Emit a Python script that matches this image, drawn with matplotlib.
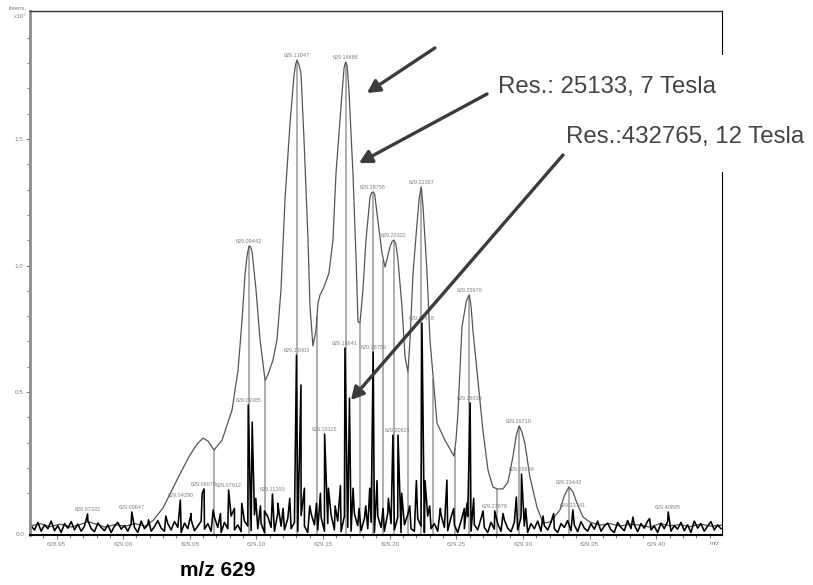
import numpy as np
import matplotlib
matplotlib.use('Agg')
import matplotlib.pyplot as plt
from matplotlib.patches import Rectangle

plt.rcParams['font.family'] = ['Liberation Sans', 'DejaVu Sans']

# 7 Tesla profile spectrum (m/z, intensity x10^7)
lowres_mz = [
    628.9301, 628.9376, 628.9451, 628.9526, 628.9601, 628.9676, 628.9736, 628.9796,
    628.9864, 628.9939, 629.0014, 629.0089, 629.0164, 629.0224, 629.0299, 629.0351,
    629.0426, 629.0501, 629.0554, 629.0599, 629.0637, 629.0682, 629.0742, 629.0817,
    629.0862, 629.0892, 629.0914, 629.0930, 629.0944, 629.0955, 629.0967, 629.0997,
    629.1027, 629.1065, 629.1087, 629.1124, 629.1154, 629.1184, 629.1214, 629.1252,
    629.1282, 629.1294, 629.1305, 629.1318, 629.1334, 629.1357, 629.1387, 629.1402,
    629.1424, 629.1447, 629.1462, 629.1477, 629.1507, 629.1544, 629.1574, 629.1597,
    629.1634, 629.1657, 629.1669, 629.1680, 629.1694, 629.1724, 629.1747, 629.1762,
    629.1777, 629.1799, 629.1822, 629.1852, 629.1865, 629.1876, 629.1888, 629.1904,
    629.1942, 629.1965, 629.2002, 629.2018, 629.2032, 629.2046, 629.2062, 629.2092,
    629.2115, 629.2137, 629.2152, 629.2175, 629.2205, 629.2222, 629.2237, 629.2250,
    629.2280, 629.2302, 629.2355, 629.2414, 629.2482, 629.2497, 629.2512, 629.2542,
    629.2575, 629.2597, 629.2610, 629.2624, 629.2662, 629.2699, 629.2737, 629.2774,
    629.2804, 629.2849, 629.2887, 629.2924, 629.2950, 629.2971, 629.2990, 629.3014,
    629.3052, 629.3105, 629.3150, 629.3202, 629.3277, 629.3310, 629.3344, 629.3375,
    629.3405, 629.3450, 629.3502, 629.3577, 629.3652, 629.3727, 629.3802, 629.3877,
    629.3952, 629.4027, 629.4102, 629.4177, 629.4252, 629.4327, 629.4410, 629.4493,
]
lowres_int = [
    -0.030, -0.020, -0.032, -0.022, -0.034, -0.024, -0.012, -0.022,
    -0.034, -0.024, -0.030, -0.020, -0.030, -0.008, 0.042, 0.097,
    0.176, 0.251, 0.294, 0.318, 0.306, 0.271, 0.310, 0.429,
    0.587, 0.785, 0.962, 1.040, 1.077, 1.075, 1.055, 0.903,
    0.706, 0.545, 0.570, 0.626, 0.706, 0.903, 1.259, 1.563,
    1.753, 1.795, 1.812, 1.795, 1.761, 1.496, 1.101, 0.836,
    0.682, 0.745, 0.852, 0.884, 0.915, 0.970, 1.101, 1.366,
    1.626, 1.780, 1.804, 1.790, 1.694, 1.366, 1.034, 0.777,
    0.775, 0.903, 1.101, 1.271, 1.288, 1.291, 1.280, 1.208,
    1.049, 0.994, 1.073, 1.095, 1.101, 1.085, 1.022, 0.836,
    0.638, 0.579, 0.706, 0.970, 1.168, 1.270, 1.310, 1.231,
    0.970, 0.706, 0.377, 0.310, 0.247, 0.310, 0.417, 0.757,
    0.860, 0.884, 0.840, 0.745, 0.547, 0.350, 0.192, 0.125,
    0.117, 0.117, 0.144, 0.243, 0.330, 0.366, 0.345, 0.298,
    0.164, 0.045, -0.018, -0.014, 0.034, 0.090, 0.125, 0.105,
    0.061, 0.006, -0.014, -0.026, -0.020, -0.030, -0.022, -0.026,
    -0.034, -0.020, -0.028, -0.024, -0.032, -0.022, -0.030, -0.026,
]
lowres_labels = [629.09442, 629.13047, 629.16688, 629.18756, 629.20322,
                 629.22367, 629.25970, 629.29710, 629.33442]
lowres_label_int = [1.077, 1.812, 1.804, 1.291, 1.101, 1.310, 0.884, 0.366, 0.125]

# peak-boundary markers of the 7 Tesla profile
marker_mz = [629.0682, 629.0944, 629.1065, 629.1305, 629.1454, 629.1669, 629.1777,
             629.1876, 629.1949, 629.2032, 629.2137, 629.2237, 629.2324, 629.2490,
             629.2597, 629.2804, 629.2971, 629.3344]
marker_top = [0.271, 1.077, 0.545, 1.812, 0.80, 1.804, 0.775,
              1.291, 1.02, 1.101, 0.579, 1.310, 0.55, 0.28,
              0.884, 0.117, 0.366, 0.125]

# 12 Tesla spectrum: noise floor on an even m/z grid ...
noise_start = 628.931
noise_step = 0.0025
noise_int = [
    -0.030, -0.045, -0.015, -0.050, -0.025, -0.040, -0.010, -0.048, -0.028, -0.055, -0.020, -0.038, -0.012,
    -0.045, -0.022, -0.050, -0.030, -0.008, -0.040, -0.052, -0.018, -0.035, -0.048, -0.025, -0.055, -0.030,
    -0.015, -0.042, -0.028, -0.050, -0.020, -0.035, -0.055, -0.010, -0.040, -0.025, -0.050, -0.032, -0.008,
    -0.038, -0.050, -0.020, -0.045, -0.012, -0.035, -0.055, -0.018, -0.040, -0.005, -0.048, -0.030, -0.010,
    -0.042, -0.020, -0.050, 0.005, -0.035, -0.055, -0.015, -0.040, 0.010, -0.045, -0.025, -0.052, -0.010,
    -0.030, -0.048, 0.015, -0.040, -0.020, -0.055, 0.008, -0.035, -0.050, 0.020, -0.030, -0.045, 0.000,
    -0.040, -0.015, -0.050, 0.012, -0.030, -0.055, 0.020, -0.025, -0.045, 0.005, -0.050, -0.020, 0.015,
    -0.045, -0.010, -0.052, 0.010, -0.035, -0.050, 0.018, -0.028, -0.048, 0.000, -0.040, -0.015, -0.055,
    0.010, -0.035, -0.050, 0.020, -0.020, -0.045, 0.005, -0.055, -0.025, 0.015, -0.040, -0.050, 0.000,
    -0.030, -0.055, 0.010, -0.040, -0.020, -0.050, 0.015, -0.035, -0.048, 0.005, -0.025, -0.055, -0.010,
    -0.040, 0.008, -0.050, -0.025, -0.045, 0.000, -0.035, -0.055, -0.015, -0.042, -0.020, -0.050, -0.005,
    -0.038, -0.052, -0.015, -0.045, 0.005, -0.030, -0.055, -0.020, -0.040, -0.010, -0.050, -0.028, -0.045,
    -0.015, -0.040, -0.055, -0.020, -0.035, -0.008, -0.048, -0.025, -0.052, -0.012, -0.038, -0.050, -0.020,
    -0.042, -0.010, -0.050, -0.030, -0.018, -0.045, -0.055, -0.015, -0.035, -0.048, -0.008, -0.040, -0.025,
    -0.052, -0.020, -0.038, -0.010, -0.045, -0.030, -0.055, -0.018, -0.040, -0.012, -0.050, -0.028, -0.042,
    -0.015, -0.048, -0.025, -0.055, -0.010, -0.038, -0.020, -0.050, -0.030, -0.012, -0.045, -0.025, -0.040,
]
# ... plus the resolved peaks
hires_mz = [
    628.97332, 629.00647, 629.01900, 629.03200, 629.04290, 629.05100, 629.05930, 629.06073,
    629.06750, 629.07300, 629.07912, 629.08350, 629.08900, 629.09385, 629.09680, 629.09950,
    629.10300, 629.10600, 629.11200, 629.11600, 629.12000, 629.12500, 629.13003, 629.13340,
    629.13600, 629.14000, 629.14500, 629.14800, 629.15115, 629.15400, 629.15900, 629.16300,
    629.16641, 629.16980, 629.17250, 629.17700, 629.18200, 629.18500, 629.18759, 629.19050,
    629.19500, 629.19900, 629.20240, 629.20621, 629.20900, 629.21500, 629.22000, 629.22418,
    629.22650, 629.23000, 629.23800, 629.24290, 629.24800, 629.25600, 629.25800, 629.26033,
    629.26300, 629.27000, 629.27878, 629.28500, 629.29500, 629.29889, 629.30200, 629.31500,
    629.32300, 629.33741, 629.38250, 629.39500, 629.40895,
]
hires_int = [
    0.018, 0.026, -0.005, 0.010, 0.073, 0.020, 0.100, 0.117,
    0.034, 0.020, 0.113, 0.040, 0.060, 0.449, 0.381, 0.080,
    0.050, 0.030, 0.097, 0.060, 0.040, 0.080, 0.646, 0.528,
    0.120, 0.050, 0.060, 0.100, 0.334, 0.120, 0.050, 0.130,
    0.674, 0.476, 0.120, 0.040, 0.050, 0.120, 0.658, 0.150,
    0.040, 0.080, 0.330, 0.330, 0.100, 0.050, 0.150, 0.773,
    0.150, 0.050, 0.040, 0.152, 0.040, 0.040, 0.061, 0.457,
    0.080, 0.030, 0.030, 0.020, 0.085, 0.176, 0.040, 0.010,
    0.020, 0.034, 0.006, 0.000, 0.026,
]
hires_labels = [628.97332, 629.00647, 629.04290, 629.06073, 629.07912, 629.09385,
                629.11200, 629.13003, 629.15115, 629.16641, 629.18759, 629.20621,
                629.22418, 629.26033, 629.27878, 629.29889, 629.33741, 629.40895]

x_ticks = [628.95, 629.00, 629.05, 629.10, 629.15, 629.20, 629.25, 629.30, 629.35, 629.40]
y_ticks = [0.5, 1.0, 1.5]

fig = plt.figure(figsize=(8.13, 5.85), dpi=100)
ax = fig.add_axes([30 / 813, 50 / 585, 692 / 813, 524 / 585])

# peak markers behind everything
ybot = -0.065
ax.vlines(marker_mz, ybot, marker_top, color='#a8a8a8', lw=1.3, zorder=1)

# low-resolution profile
ax.plot(lowres_mz, lowres_int, color='#555555', lw=0.9, zorder=2)

# high-resolution trace
noise_mz = noise_start + noise_step * np.arange(len(noise_int))
all_mz = np.concatenate([noise_mz, hires_mz])
all_int = np.concatenate([noise_int, hires_int])
order = np.argsort(all_mz)
ax.plot(all_mz[order], all_int[order], color='black', lw=1.15, zorder=2.2)

lab_kw = dict(fontsize=4.0, color='#808080', ha='center', va='bottom',
              textcoords='offset points', xytext=(0, 1.5), zorder=2.5)
for mz, h in zip(lowres_labels, lowres_label_int):
    ax.annotate(f'{mz:.5f}', xy=(mz, h), **lab_kw)
for mz in hires_labels:
    h = hires_int[hires_mz.index(mz)]
    ax.annotate(f'{mz:.5f}', xy=(mz, h), **lab_kw)

ax.set_xlim(628.9301, 629.4493)
ax.set_ylim(ybot, 2.006)
ax.set_xticks(x_ticks)
ax.set_xticklabels([f'{t:.2f}' for t in x_ticks])
ax.set_xticks(np.arange(628.94, 629.45, 0.01), minor=True)
ax.set_yticks(y_ticks)
ax.set_yticklabels([f'{t:.1f}' for t in y_ticks])
ax.set_yticks(np.arange(0.1, 2.0, 0.1), minor=True)
ax.tick_params(which='both', direction='out', colors='#808080', labelsize=4.5,
               labelcolor='#808080', width=0.8)
ax.tick_params(which='major', length=3, pad=2)
ax.tick_params(which='minor', length=2)
ax.text(-0.008, 0.0, '0.0', transform=ax.transAxes, ha='right', va='center',
        fontsize=4.5, color='#808080')
ax.text(0.99, -0.012, 'm/z', transform=ax.transAxes, ha='center', va='top',
        fontsize=4.5, color='#808080')
fig.text(27 / 813, 1 - 6 / 585, 'Intens.\nx10$^7$', ha='right', va='top',
         fontsize=4.3, color='#808080', linespacing=1.1)

ax.spines['left'].set_color('#8c8c8c')
ax.spines['left'].set_linewidth(2.0)
ax.spines['bottom'].set_color('black')
ax.spines['bottom'].set_linewidth(1.5)
ax.spines['top'].set_color('#333333')
ax.spines['top'].set_linewidth(1.0)
ax.spines['right'].set_color('black')
ax.spines['right'].set_linewidth(0.8)

# white panel behind the resolution notes
ax.add_patch(Rectangle((490 / 813, 413 / 585), 323 / 813, 117 / 585,
                       transform=fig.transFigure, facecolor='white',
                       edgecolor='none', clip_on=False, zorder=3))

arrow_kw = dict(arrowstyle='-|>,head_length=0.75,head_width=0.4', color='#3c3c3c',
                lw=2.4, shrinkA=0, shrinkB=0)
ax.annotate('', xy=(629.1829, 1.682), xytext=(629.2339, 1.860),
            arrowprops=arrow_kw, zorder=4, annotation_clip=False)
ax.annotate('', xy=(629.1769, 1.405), xytext=(629.2730, 1.678),
            arrowprops=arrow_kw, zorder=4, annotation_clip=False)
ax.annotate('', xy=(629.1709, 0.468), xytext=(629.3300, 1.437),
            arrowprops=arrow_kw, zorder=4, annotation_clip=False)

ax.text(629.2812, 1.683, 'Res.: 25133, 7 Tesla', fontsize=17.3, color='#444444',
        ha='left', va='baseline', clip_on=False, zorder=4)
ax.text(629.3322, 1.483, 'Res.:432765, 12 Tesla', fontsize=17.3, color='#444444',
        ha='left', va='baseline', clip_on=False, zorder=4)

fig.text(218 / 813, 1 - 570 / 585, 'm/z 629', ha='center', va='center',
         fontsize=15, fontweight='bold', color='black')

fig.savefig('out.png', dpi=100)
